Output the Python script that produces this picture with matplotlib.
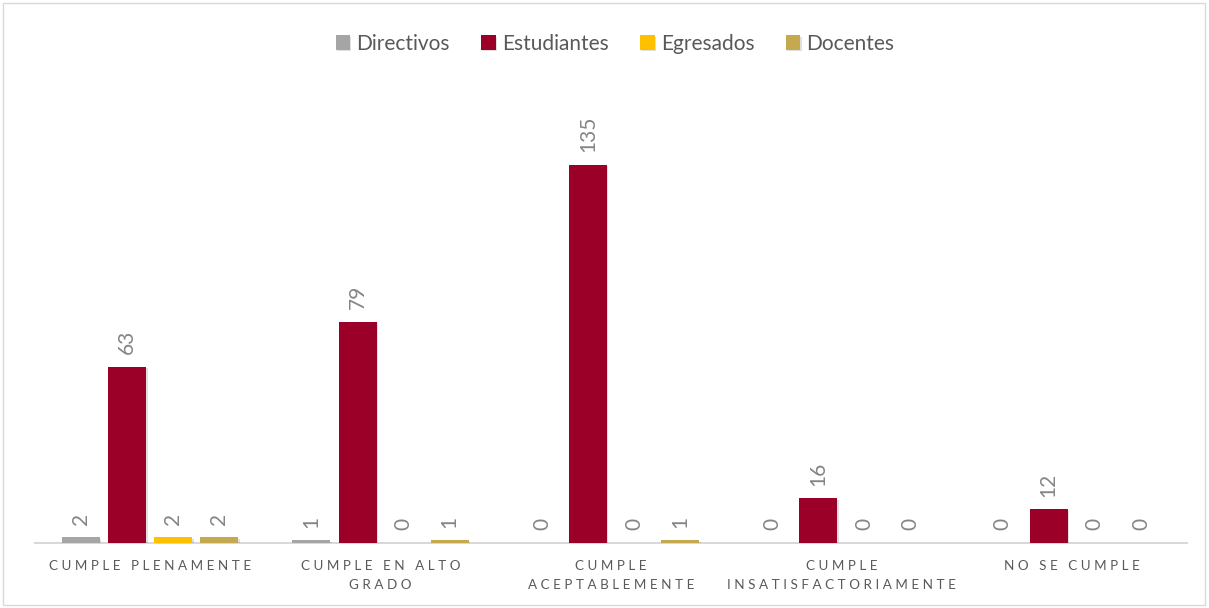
import matplotlib
matplotlib.use("Agg")
import matplotlib.pyplot as plt
from matplotlib.patches import Rectangle
import matplotlib.patheffects as pe
import numpy as np

plt.rcParams['font.family'] = ['Lato', 'DejaVu Sans']

categories = ["CUMPLE PLENAMENTE", "CUMPLE EN ALTO\nGRADO", "CUMPLE\nACEPTABLEMENTE",
              "CUMPLE\nINSATISFACTORIAMENTE", "NO SE CUMPLE"]
series_names = ["Directivos", "Estudiantes", "Egresados", "Docentes"]
directivos = [2, 1, 0, 0, 0]
estudiantes = [63, 79, 135, 16, 12]
egresados = [2, 0, 0, 0, 0]
docentes = [2, 1, 1, 0, 0]
colors = ["#A5A5A5", "#9B0029", "#FFC000", "#C5A94E"]

def spaced(s):
    lines = []
    for line in s.split("\n"):
        words = line.split(" ")
        lines.append("   ".join(" ".join(list(w)) for w in words))
    return "\n".join(lines)

fig = plt.figure(figsize=(12.09, 6.08), dpi=100)
ax = fig.add_axes([35/1209, 65/608, (1187-35)/1209, (543-95)/608])

x = np.arange(len(categories))
width = 0.165
offsets = [-0.3, -0.1, 0.1, 0.3]
data = [directivos, estudiantes, egresados, docentes]
for vals, off, c, name in zip(data, offsets, colors, series_names):
    bars = ax.bar(x + off, vals, width, color=c, label=name, zorder=3)
    for b in bars:
        b.set_path_effects([pe.SimplePatchShadow(offset=(1, -1), shadow_rgbFace='#000000', alpha=0.12), pe.Normal()])
    for xi, v in zip(x + off, vals):
        ax.annotate(str(v), (xi, v), xytext=(0, 9), textcoords="offset points",
                    rotation=90, ha="center", va="bottom", fontsize=15, color="#858585")

ax.set_xlim(-0.5, len(categories) - 0.5)
ax.set_ylim(0, 160)
ax.set_yticks([])
ax.set_xticks(x)
ax.set_xticklabels([spaced(c) for c in categories], fontsize=9.7, color="#595959", linespacing=1.75)
ax.tick_params(axis='x', length=0, pad=12)
for s in ["top", "right", "left"]:
    ax.spines[s].set_visible(False)
ax.spines["bottom"].set_color("#D9D9D9")
ax.spines["bottom"].set_linewidth(1.5)

leg = fig.legend(loc="center", bbox_to_anchor=(615/1209, 1 - 44/608), ncol=4, frameon=False,
                 fontsize=15, handlelength=0.7, handleheight=0.7, handletextpad=0.3,
                 columnspacing=1.5, labelcolor="#595959")

fig.patches.append(Rectangle((3/1209, 3/608), 1202/1209, 602/608, transform=fig.transFigure,
                             fill=False, edgecolor="#D9D9D9", linewidth=1))

fig.savefig("out.png", dpi=100)
